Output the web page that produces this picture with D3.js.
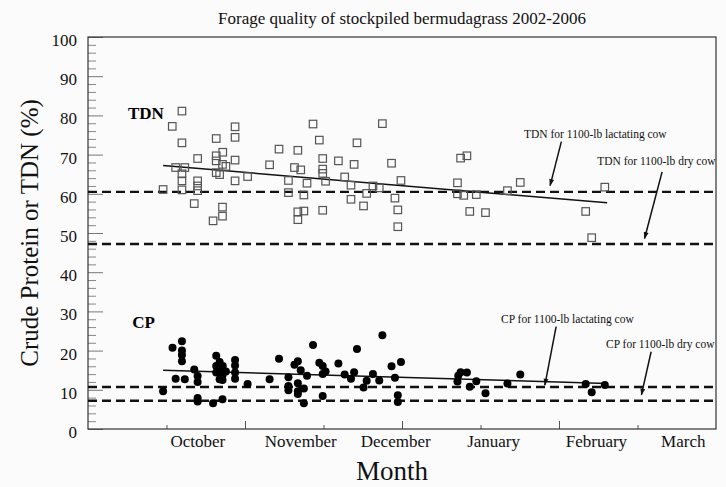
<!DOCTYPE html>
<html>
<head>
<meta charset="utf-8">
<script src="https://cdn.jsdelivr.net/npm/d3@7"></script>
<style>
  body { margin: 0; background: #fbfbfb; }
  svg { display: block; }
  svg text { font-family: 'Liberation Serif', 'DejaVu Serif', serif; }
</style>
</head>
<body>
<div id="chart"></div>
<script>
const FONT = "'Liberation Serif', 'DejaVu Serif', serif";

// [day of season, TDN %]
const tdnPoints = [
  [28.7, 61.1], [32.2, 77.2], [33.5, 66.7],
  [35.9, 81.1], [35.9, 73.0], [35.9, 65.1], [35.9, 63.3], [35.9, 61.0],
  [37.0, 66.7], [40.6, 57.5],
  [41.9, 69.0], [41.9, 63.3], [41.9, 62.0], [41.9, 60.8],
  [47.8, 53.1], [49.0, 74.1], [49.0, 69.7], [49.0, 68.4], [49.0, 65.4],
  [50.3, 64.9], [51.5, 70.6], [51.4, 67.5], [51.4, 56.6], [51.4, 54.3],
  [52.7, 67.0], [56.2, 77.1], [56.2, 74.4], [56.2, 68.6], [56.2, 63.3],
  [61.0, 64.4], [69.4, 67.4], [73.0, 71.4], [76.6, 63.4], [76.6, 60.3],
  [78.9, 66.7], [80.2, 71.1], [80.2, 55.4], [80.2, 53.4], [81.3, 66.1],
  [82.5, 59.7], [82.5, 55.6], [83.7, 62.7], [86.0, 77.8], [88.4, 73.7],
  [89.7, 69.0], [89.7, 66.3], [89.7, 65.2], [89.7, 55.8], [90.8, 63.2],
  [95.7, 68.4], [98.1, 64.3], [100.5, 62.2], [100.5, 58.6], [101.7, 67.5],
  [102.8, 73.0], [105.3, 56.9], [106.5, 60.1], [108.9, 62.0], [111.3, 61.5],
  [112.5, 77.9], [116.0, 67.8], [117.3, 58.9], [118.4, 55.9], [118.4, 51.6],
  [119.6, 63.4], [141.2, 62.8], [141.2, 60.0], [142.4, 69.1], [143.6, 59.6],
  [144.8, 69.7], [145.9, 55.5], [148.4, 59.8], [151.9, 55.2], [160.3, 60.8],
  [165.2, 62.9], [190.2, 55.5], [192.5, 48.8], [197.5, 61.7]
];

// [day of season, CP %]
const cpPoints = [
  [28.7, 9.6], [32.3, 20.7], [33.5, 12.8],
  [35.9, 22.4], [35.9, 20.0], [35.9, 18.9], [35.9, 17.3],
  [37.0, 12.7], [40.6, 15.2],
  [41.9, 13.5], [41.9, 12.0], [41.9, 7.9], [41.9, 7.0],
  [47.8, 6.6], [49.0, 18.7], [49.0, 16.1], [49.0, 14.4],
  [50.3, 17.1], [50.3, 15.1], [50.3, 12.7],
  [51.5, 16.1], [51.4, 13.7], [51.4, 12.5], [51.4, 7.6], [52.7, 14.7],
  [56.2, 17.6], [56.2, 16.2], [56.2, 14.4], [56.2, 12.8],
  [61.0, 11.5], [69.4, 12.7], [73.0, 17.9],
  [76.6, 13.2], [76.6, 11.0], [76.6, 9.9], [78.9, 16.4],
  [80.2, 17.3], [80.2, 11.7], [80.2, 9.6], [80.2, 8.9], [81.3, 15.0],
  [82.5, 10.3], [82.5, 6.6], [83.7, 13.6], [86.0, 21.4], [88.4, 16.9],
  [89.7, 16.1], [89.7, 14.0], [89.7, 8.4], [90.8, 14.7], [95.7, 16.7],
  [98.1, 13.9], [100.5, 12.8], [101.7, 14.5], [102.8, 20.4], [105.3, 10.6],
  [106.5, 12.3], [108.9, 14.0], [111.3, 12.4], [112.5, 23.9],
  [116.0, 16.0], [117.3, 13.1], [118.4, 8.6], [118.4, 6.9], [119.6, 17.1],
  [141.2, 12.1], [141.5, 13.6], [142.4, 14.5], [144.8, 14.4], [145.9, 10.8],
  [148.4, 12.2], [151.9, 9.1], [160.3, 11.6], [165.2, 13.9],
  [190.2, 11.5], [192.5, 9.4], [197.5, 11.2]
];

// regression lines (start / end)
const tdnTrend = [[28.7, 67.2], [198.4, 57.7]];
const cpTrend = [[28.7, 15.0], [198.4, 11.6]];

// requirement levels
const reqValues = [60.5, 47.2, 10.7, 7.2];

const monthNames = ['October', 'November', 'December', 'January', 'February', 'March'];
const monthPos = [42.0, 81.3, 117.6, 155.0, 194.3, 227.5];

const yMajorTicks = d3.range(0, 101, 10);
const yMinorTicks = d3.range(0, 101, 2).filter(d => d % 10 !== 0);
const xMajorTicks = [60, 120, 180];
const xMinorTicks = [30, 90, 150, 210];

const notes = [
  { text: 'TDN for 1100-lb lactating cow', tx: 193.9, ty: 74.2, from: [180.9, 73.3], to: [176.6, 62.1] },
  { text: 'TDN for 1100-lb dry cow', tx: 217.2, ty: 67.3, from: [219.4, 65.6], to: [212.7, 48.6] },
  { text: 'CP for 1100-lb lactating cow', tx: 183.2, ty: 27.0, from: [178.9, 26.1], to: [174.6, 11.2] },
  { text: 'CP for 1100-lb dry cow', tx: 218.7, ty: 20.7, from: [215.2, 19.7], to: [211.5, 8.7] }
];

const W = 726, H = 487;
const margin = { top: 37, right: 10, bottom: 58, left: 88 };
const width = W - margin.left - margin.right;
const height = H - margin.top - margin.bottom;

const root = d3.select('#chart').append('svg')
  .attr('width', W)
  .attr('height', H)
  .attr('font-family', FONT);

root.append('defs').append('marker')
  .attr('id', 'arrow')
  .attr('viewBox', '0 0 10 10')
  .attr('refX', 9).attr('refY', 5)
  .attr('markerWidth', 9).attr('markerHeight', 7)
  .attr('markerUnits', 'userSpaceOnUse')
  .attr('orient', 'auto')
  .append('path')
  .attr('d', 'M0,1.5 L10,5 L0,8.5 Z')
  .attr('fill', '#111');

const svg = root.append('g')
  .attr('transform', `translate(${margin.left},${margin.top})`);

const x = d3.scaleLinear().domain([0, 240]).range([0, width]);
const y = d3.scaleLinear().domain([0, 100]).range([height, 0]);

// Axes (ticks point inward)
const yMajor = svg.append('g')
  .call(d3.axisLeft(y).tickValues(yMajorTicks).tickSize(-15).tickPadding(11))
  .attr('font-family', FONT)
  .attr('font-size', 17);
yMajor.select('.domain').remove();
yMajor.selectAll('line').attr('stroke', '#777');
yMajor.selectAll('text')
  .attr('dy', '0.5em')
  .attr('fill', '#111');

const yMinor = svg.append('g')
  .call(d3.axisLeft(y).tickValues(yMinorTicks).tickSize(-8).tickFormat(''));
yMinor.select('.domain').remove();
yMinor.selectAll('line').attr('stroke', '#888');

const xMajor = svg.append('g')
  .attr('transform', `translate(0,${height})`)
  .call(d3.axisBottom(x).tickValues(xMajorTicks).tickSize(-8).tickFormat(''));
xMajor.select('.domain').remove();
xMajor.selectAll('line').attr('stroke', '#555');

const xMinor = svg.append('g')
  .attr('transform', `translate(0,${height})`)
  .call(d3.axisBottom(x).tickValues(xMinorTicks).tickSize(-4).tickFormat(''));
xMinor.select('.domain').remove();
xMinor.selectAll('line').attr('stroke', '#555');

// Month labels
svg.append('g').selectAll('text')
  .data(monthNames)
  .enter()
  .append('text')
  .attr('x', (d, i) => x(monthPos[i]))
  .attr('y', height + 18)
  .attr('text-anchor', 'middle')
  .attr('font-size', 17)
  .attr('fill', '#111')
  .text(d => d);

// Frame
svg.append('rect')
  .attr('width', width)
  .attr('height', height)
  .attr('fill', 'none')
  .attr('stroke', '#333')
  .attr('stroke-width', 1.2);

// Requirement lines
svg.selectAll('.req')
  .data(reqValues)
  .enter()
  .append('line')
  .attr('class', 'req')
  .attr('x1', 0)
  .attr('x2', width)
  .attr('y1', d => y(d))
  .attr('y2', d => y(d))
  .attr('stroke', '#111')
  .attr('stroke-width', 2.4)
  .attr('stroke-dasharray', '9,5');

// Trend lines
const line = d3.line().x(d => x(d[0])).y(d => y(d[1]));
[tdnTrend, cpTrend].forEach(t => {
  svg.append('path')
    .attr('d', line(t))
    .attr('fill', 'none')
    .attr('stroke', '#111')
    .attr('stroke-width', 1.5);
});

// TDN squares
const sq = 7.5;
svg.append('g').selectAll('rect')
  .data(tdnPoints)
  .enter()
  .append('rect')
  .attr('x', d => x(d[0]) - sq / 2)
  .attr('y', d => y(d[1]) - sq / 2)
  .attr('width', sq)
  .attr('height', sq)
  .attr('fill', 'none')
  .attr('stroke', '#555')
  .attr('stroke-width', 1.2);

// CP dots
svg.append('g').selectAll('circle')
  .data(cpPoints)
  .enter()
  .append('circle')
  .attr('cx', d => x(d[0]))
  .attr('cy', d => y(d[1]))
  .attr('r', 4)
  .attr('fill', '#000');

// Group labels
svg.append('text')
  .attr('x', x(22.1)).attr('y', y(79.1))
  .attr('text-anchor', 'middle')
  .attr('font-size', 17).attr('font-weight', 'bold')
  .text('TDN');
svg.append('text')
  .attr('x', x(21.2)).attr('y', y(25.8))
  .attr('text-anchor', 'middle')
  .attr('font-size', 17).attr('font-weight', 'bold')
  .text('CP');

// Annotations
notes.forEach(n => {
  svg.append('text')
    .attr('x', x(n.tx)).attr('y', y(n.ty))
    .attr('text-anchor', 'middle')
    .attr('font-size', 11.5)
    .attr('fill', '#111')
    .text(n.text);
  svg.append('line')
    .attr('x1', x(n.from[0])).attr('y1', y(n.from[1]))
    .attr('x2', x(n.to[0])).attr('y2', y(n.to[1]))
    .attr('stroke', '#111')
    .attr('stroke-width', 1.5)
    .attr('marker-end', 'url(#arrow)');
});

// Titles
root.append('text')
  .attr('x', 402).attr('y', 24)
  .attr('text-anchor', 'middle')
  .attr('font-size', 17)
  .attr('fill', '#111')
  .text('Forage quality of stockpiled bermudagrass 2002-2006');

root.append('text')
  .attr('x', margin.left + width / 2 - 10).attr('y', 480)
  .attr('text-anchor', 'middle')
  .attr('font-size', 27)
  .attr('fill', '#111')
  .text('Month');

root.append('text')
  .attr('transform', `translate(38,${margin.top + height / 2}) rotate(-90)`)
  .attr('text-anchor', 'middle')
  .attr('font-size', 25)
  .attr('fill', '#111')
  .text('Crude Protein or TDN (%)');
</script>
</body>
</html>
